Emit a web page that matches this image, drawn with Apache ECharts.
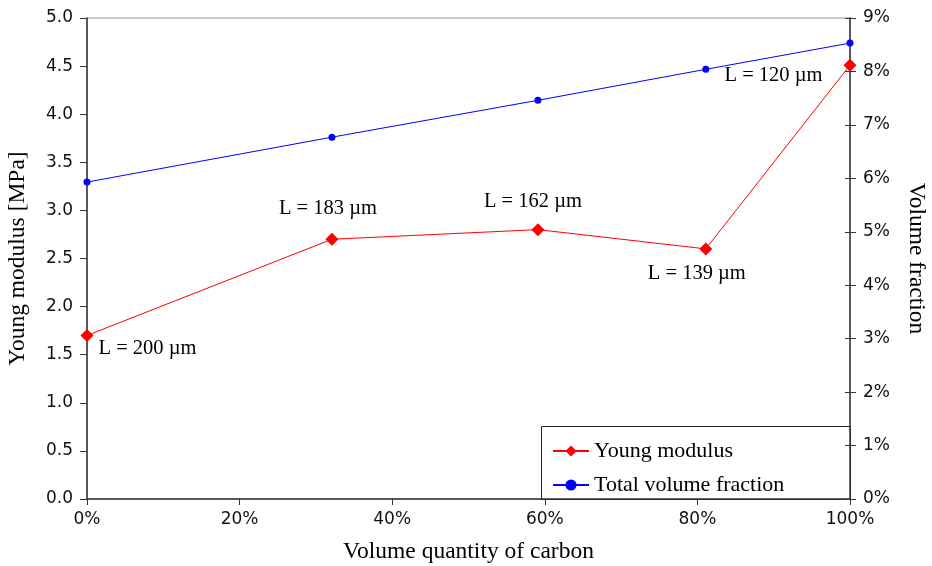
<!DOCTYPE html>
<html><head><meta charset="utf-8">
<script src="https://cdn.jsdelivr.net/npm/echarts@6/dist/echarts.min.js"></script>
<style>html,body{margin:0;padding:0;background:#fff}#c{width:932px;height:566px}</style>
</head><body><div id="c"></div>
<script>
const carbonFraction = [0, 32.1, 59.1, 81.1, 100];
const youngModulus = [1.70, 2.70, 2.80, 2.60, 4.51];
const volumeFraction = [5.93, 6.77, 7.46, 8.04, 8.53];
const lengthLabels = ['L = 200 µm', 'L = 183 µm', 'L = 162 µm', 'L = 139 µm', 'L = 120 µm'];
const seriesNames = ['Young modulus', 'Total volume fraction'];

const labelPlacement = [
  {position: 'right', offset: [0, 13]},
  {position: 'top', offset: [-4, -9]},
  {position: 'top', offset: [-5, -6]},
  {position: 'bottom', offset: [-9, 3]},
  {position: 'left', offset: [-16, 10]}
];
const serif = 'Liberation Serif';
const sans = 'DejaVu Sans';
const axisCol = '#333';

const chart = echarts.init(document.getElementById('c'), null, {renderer: 'canvas'});
chart.setOption({
  animation: false,
  backgroundColor: '#fff',
  grid: {left: 87, right: 82, top: 18, bottom: 67, containLabel: false, outerBoundsMode: 'none',
         show: true, borderColor: '#999', borderWidth: 1, backgroundColor: 'transparent'},
  legend: {
    orient: 'vertical', left: 552, top: 440, padding: 0, itemWidth: 36, itemHeight: 14, itemGap: 12,
    textStyle: {fontFamily: serif, fontSize: 22, color: '#000'},
    data: seriesNames
  },
  graphic: [{type: 'rect', left: 541, top: 426, shape: {width: 309, height: 73}, style: {fill: '#fff', stroke: '#222', lineWidth: 1}, z: 0}],
  xAxis: {
    type: 'value', min: 0, max: 100, interval: 20,
    name: 'Volume quantity of carbon', nameLocation: 'middle', nameGap: 41,
    nameTextStyle: {fontFamily: serif, fontSize: 23.5, color: '#000'},
    axisLine: {show: true, lineStyle: {color: axisCol, width: 1.5}},
    axisTick: {show: true, length: 6, lineStyle: {color: axisCol}},
    axisLabel: {formatter: v => v + '%', fontFamily: sans, fontSize: 17, color: '#111', margin: 12},
    splitLine: {show: false}
  },
  yAxis: [{
    type: 'value', min: 0, max: 5, interval: 0.5, position: 'left',
    name: 'Young modulus [MPa]', nameLocation: 'middle', nameGap: 57, nameRotate: 90,
    nameTextStyle: {fontFamily: serif, fontSize: 23.5, color: '#000'},
    axisLine: {show: true, lineStyle: {color: axisCol, width: 1.5}},
    axisTick: {show: true, length: 7, lineStyle: {color: axisCol}},
    axisLabel: {formatter: v => v.toFixed(1), fontFamily: sans, fontSize: 17, color: '#111', margin: 14},
    splitLine: {show: false}
  }, {
    type: 'value', min: 0, max: 9, interval: 1, position: 'right',
    name: 'Volume fraction', nameLocation: 'middle', nameGap: 54, nameRotate: -90,
    nameTextStyle: {fontFamily: serif, fontSize: 23.5, color: '#000'},
    axisLine: {show: true, lineStyle: {color: axisCol, width: 1.5}},
    axisTick: {show: true, length: 6, lineStyle: {color: axisCol}},
    axisLabel: {formatter: v => v + '%', fontFamily: sans, fontSize: 17, color: '#111', margin: 13},
    splitLine: {show: false}
  }, {
    type: 'value', min: 0, max: 9, interval: 1, position: 'right',
    axisLine: {show: false},
    axisTick: {show: true, inside: true, length: 5, lineStyle: {color: axisCol}},
    axisLabel: {show: false},
    splitLine: {show: false}
  }],
  series: [{
    name: seriesNames[0], type: 'line', yAxisIndex: 0,
    symbol: 'diamond', symbolSize: 13,
    lineStyle: {color: '#ff0000', width: 1},
    itemStyle: {color: '#ff0000'},
    z: 3,
    data: carbonFraction.map((x, i) => ({
      value: [x, youngModulus[i]],
      label: Object.assign({show: true, formatter: lengthLabels[i], fontFamily: serif, fontSize: 20.5, color: '#000', distance: 5}, labelPlacement[i])
    }))
  }, {
    name: seriesNames[1], type: 'line', yAxisIndex: 1,
    symbol: 'circle', symbolSize: 7,
    lineStyle: {color: '#0000ff', width: 1},
    itemStyle: {color: '#0000ff'},
    z: 3,
    data: carbonFraction.map((x, i) => [x, volumeFraction[i]])
  }]
});
</script></body></html>
